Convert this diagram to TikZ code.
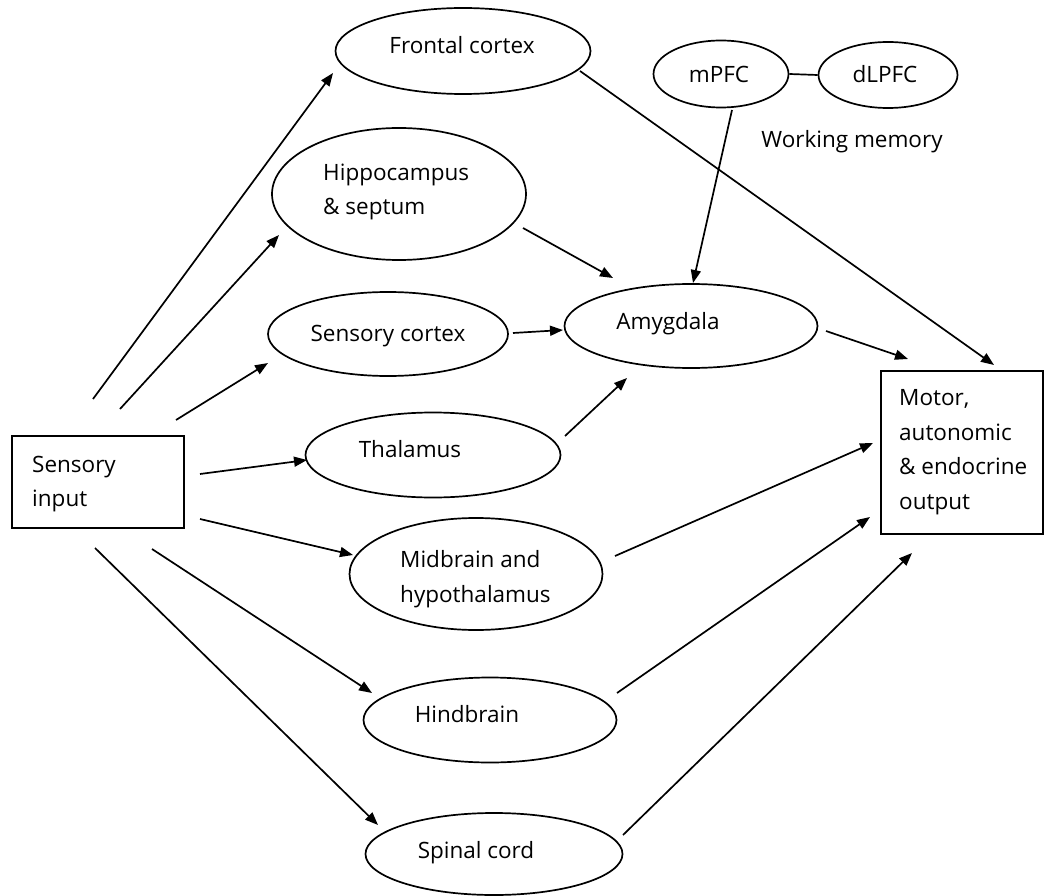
\documentclass[tikz,border=0pt]{standalone}
\usepackage{fontspec}
\setmainfont{Open Sans}
\usetikzlibrary{shapes.geometric,arrows.meta}
\begin{document}
\begin{tikzpicture}[x=1pt,y=-1pt,
  ell/.style={draw, ellipse, line width=1.7pt, inner sep=0pt},
  box/.style={draw, line width=1.7pt, inner sep=0pt},
  lbl/.style={font=\fontsize{22.5}{34.5}\selectfont, inner sep=0pt, align=left, text=black},
  arr/.style={line width=1.7pt, -{Triangle[length=13pt,width=10pt]}},
  conn/.style={line width=1.7pt}]
\useasboundingbox (0,0) rectangle (1044,896);
% shapes
\node[ell, minimum width=255, minimum height=86] (fc) at (463,51) {};
\node[ell, minimum width=135, minimum height=67] (mp) at (721,74) {};
\node[ell, minimum width=139, minimum height=66] (dl) at (888,75) {};
\node[ell, minimum width=254, minimum height=132] (hip) at (399,194) {};
\node[ell, minimum width=240, minimum height=84] (sc) at (388,334) {};
\node[ell, minimum width=253, minimum height=84] (amy) at (691,326) {};
\node[ell, minimum width=255, minimum height=85] (th) at (433,455) {};
\node[ell, minimum width=253, minimum height=112] (mid) at (476,574) {};
\node[ell, minimum width=253, minimum height=85] (hind) at (490,720) {};
\node[ell, minimum width=257, minimum height=82] (sp) at (494,854) {};
\node[box, minimum width=172, minimum height=92] (in) at (98,482) {};
\node[box, minimum width=162, minimum height=163] (out) at (962,452.5) {};
% labels
\node[lbl, anchor=base] (fcT) at (462,54) {Frontal cortex};
\node[lbl, anchor=base] (mpT) at (719,83) {mPFC};
\node[lbl, anchor=base] (dlT) at (885,83) {dLPFC};
\node[lbl, anchor=base] (wm) at (852,148) {Working memory};
\node[lbl, anchor=west] (hipT) at (323,192) {Hippocampus\\\& septum};
\node[lbl, anchor=base] (scT) at (388,341) {Sensory cortex};
\node[lbl, anchor=base] (amyT) at (668,329) {Amygdala};
\node[lbl, anchor=base] (thT) at (410,457) {Thalamus};
\node[lbl, anchor=west] (midT) at (400,579) {Midbrain and\\hypothalamus};
\node[lbl, anchor=base] (hindT) at (467,722) {Hindbrain};
\node[lbl, anchor=base] (spT) at (476,858) {Spinal cord};
\node[lbl, anchor=west] (inT) at (32,484) {Sensory\\input};
\node[lbl, anchor=west] (outT) at (899,452) {Motor,\\autonomic\\\& endocrine\\output};
% connector end points
\coordinate (s1) at (93,399);  \coordinate (e1) at (333,73);
\coordinate (s2) at (120,409); \coordinate (e2) at (279,235);
\coordinate (s3) at (176,420); \coordinate (e3) at (268,363);
\coordinate (s4) at (200,474); \coordinate (e4) at (307,460);
\coordinate (s5) at (200,519); \coordinate (e5) at (353,555);
\coordinate (s6) at (152,549); \coordinate (e6) at (372,693);
\coordinate (s7) at (95,548);  \coordinate (e7) at (378,825);
\coordinate (h1) at (523,228); \coordinate (h2) at (613,278);
\coordinate (c1) at (513,333); \coordinate (c2) at (563,330);
\coordinate (t1) at (565,436); \coordinate (t2) at (627,378);
\coordinate (m1) at (732,110); \coordinate (m2) at (693,283);
\coordinate (f1) at (580,71);  \coordinate (f2) at (994,365);
\coordinate (a1) at (826,331); \coordinate (a2) at (908,359);
\coordinate (d1) at (615,556); \coordinate (d2) at (873,443);
\coordinate (k1) at (617,693); \coordinate (k2) at (870,517);
\coordinate (p1) at (623,835); \coordinate (p2) at (912,553);
% connectors
\draw[conn] (mp.east) -- (dl.west);
\draw[arr] (s1) -- (e1);
\draw[arr] (s2) -- (e2);
\draw[arr] (s3) -- (e3);
\draw[arr] (s4) -- (e4);
\draw[arr] (s5) -- (e5);
\draw[arr] (s6) -- (e6);
\draw[arr] (s7) -- (e7);
\draw[arr] (h1) -- (h2);
\draw[arr] (c1) -- (c2);
\draw[arr] (t1) -- (t2);
\draw[arr] (m1) -- (m2);
\draw[arr] (f1) -- (f2);
\draw[arr] (a1) -- (a2);
\draw[arr] (d1) -- (d2);
\draw[arr] (k1) -- (k2);
\draw[arr] (p1) -- (p2);
\end{tikzpicture}
\end{document}
